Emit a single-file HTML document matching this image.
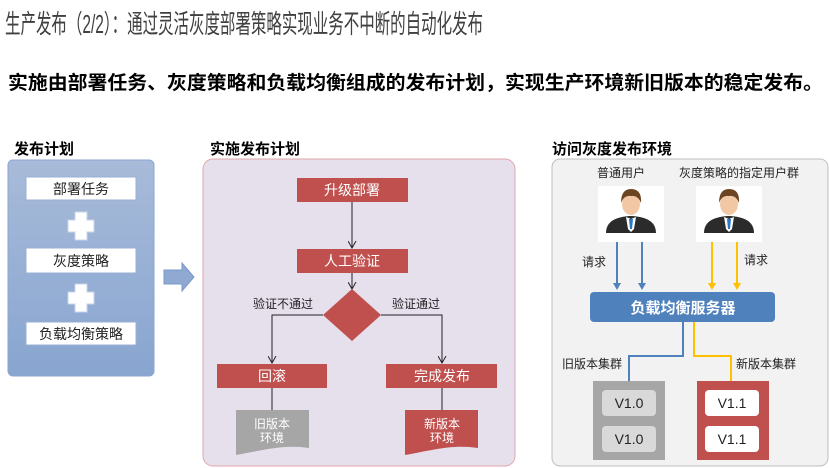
<!DOCTYPE html>
<html><head><meta charset="utf-8"><style>
html,body{margin:0;padding:0;background:#fff;}
svg{display:block;font-family:"Liberation Sans","Noto Sans CJK SC",sans-serif;}
</style></head><body>
<svg width="829" height="468" viewBox="0 0 829 468" xmlns="http://www.w3.org/2000/svg">
<defs>
<linearGradient id="lg" x1="0" y1="0" x2="0" y2="1"><stop offset="0" stop-color="#a8bbd9"/><stop offset="1" stop-color="#88a5d0"/></linearGradient>
<marker id="ab" markerWidth="10" markerHeight="10" refX="4" refY="7" orient="0" markerUnits="userSpaceOnUse"><path d="M0,0 L4,7 L8,0" fill="none" stroke="#222" stroke-width="1"/></marker>
</defs>
<text x="5" y="33" font-size="26" fill="#404040" textLength="478" lengthAdjust="spacingAndGlyphs">生产发布（2/2）：通过灵活灰度部署策略实现业务不中断的自动化发布</text>
<text x="8" y="89" font-size="19" font-weight="bold" fill="#000" textLength="815" lengthAdjust="spacingAndGlyphs">实施由部署任务、灰度策略和负载均衡组成的发布计划，实现生产环境新旧版本的稳定发布。</text>

<!-- left -->
<text x="14" y="154" font-size="15" font-weight="bold" fill="#000">发布计划</text>
<rect x="8" y="160" width="146" height="216" rx="5" fill="url(#lg)" stroke="#8aa6d2"/>
<g font-size="14" fill="#222" text-anchor="middle">
<rect x="26" y="177" width="110" height="23" fill="#fff" stroke="#9ab0d6"/><text x="81" y="194">部署任务</text>
<rect x="26" y="248" width="110" height="25" fill="#fff" stroke="#9ab0d6"/><text x="81" y="266">灰度策略</text>
<rect x="26" y="322" width="110" height="23" fill="#fff" stroke="#9ab0d6"/><text x="81" y="339">负载均衡策略</text>
</g>
<path d="M75,212h12v8h7v12h-7v8h-12v-8h-7v-12h7z" fill="#fff" stroke="#c8d4ea"/>
<path d="M75,284h12v8h7v12h-7v8h-12v-8h-7v-12h7z" fill="#fff" stroke="#c8d4ea"/>
<path d="M164,270h18v-7l12,14l-12,14v-7h-18z" fill="#8fa9d3" stroke="#7a98c8"/>

<!-- middle -->
<text x="210" y="154" font-size="15" font-weight="bold" fill="#000">实施发布计划</text>
<rect x="203" y="159" width="312" height="307" rx="10" fill="#e6dfec" stroke="#e2a6ac"/>
<g stroke="#222" stroke-width="1" fill="none">
<line x1="352" y1="202" x2="352" y2="248" marker-end="url(#ab)"/>
<line x1="352" y1="273" x2="352" y2="289" marker-end="url(#ab)"/>
<polyline points="323,315 272,315 272,363" marker-end="url(#ab)"/>
<polyline points="381,315 442,315 442,363" marker-end="url(#ab)"/>
<line x1="272" y1="388" x2="272" y2="412"/>
<line x1="442" y1="388" x2="442" y2="412"/>
</g>
<g font-size="14" fill="#fff" text-anchor="middle">
<rect x="297" y="178" width="111" height="24" fill="#c0504d"/><text x="352" y="195">升级部署</text>
<rect x="297" y="249" width="111" height="24" fill="#c0504d"/><text x="352" y="266">人工验证</text>
<path d="M352,289 L381,315 L352,341 L323,315z" fill="#c0504d"/>
<rect x="217" y="364" width="110" height="24" fill="#c0504d"/><text x="272" y="381">回滚</text>
<rect x="386" y="364" width="111" height="24" fill="#c0504d"/><text x="442" y="381">完成发布</text>
<path d="M236,410h73v38c-25,-4 -45,2 -73,7z" fill="#a6a6a6"/>
<text x="272" y="428" font-size="12">旧版本</text><text x="272" y="442" font-size="12">环境</text>
<path d="M405,410h73v38c-25,-4 -45,2 -73,7z" fill="#c0504d"/>
<text x="442" y="428" font-size="12">新版本</text><text x="442" y="442" font-size="12">环境</text>
</g>
<text x="253" y="308" font-size="12" fill="#222">验证不通过</text>
<text x="392" y="308" font-size="12" fill="#222">验证通过</text>

<!-- right -->
<text x="552" y="154" font-size="15" font-weight="bold" fill="#000">访问灰度发布环境</text>
<rect x="552" y="159" width="276" height="307" rx="8" fill="#f2f2f2" stroke="#bfbfbf"/>
<text x="621" y="177" font-size="12" fill="#222" text-anchor="middle">普通用户</text>
<text x="739" y="177" font-size="12" fill="#222" text-anchor="middle">灰度策略的指定用户群</text>
<g>
<rect x="598" y="186" width="66" height="56" fill="#fff"/>
<rect x="696" y="186" width="66" height="56" fill="#fff"/>
<g id="u">
<path d="M606,233 q0,-16 25,-17 q25,1 25,17z" fill="#2b2b2b"/>
<path d="M626,217 l5,2 l5,-2 l-2,12 l-3,3 l-3,-3z" fill="#fff"/>
<path d="M629,219 h4 l-1,10 h-2z" fill="#2a78c4"/>
<ellipse cx="631" cy="204" rx="9" ry="11" fill="#f1c8a3"/>
<path d="M621,203 q0,-14 10,-14 q11,0 10,14 q-3,-8 -10,-7 q-7,-1 -10,7z" fill="#6b4422"/>
</g>
<use href="#u" x="98"/>
</g>
<g stroke-width="2" fill="none">
<g stroke="#4f81bd"><line x1="617" y1="242" x2="617" y2="284"/><line x1="642" y1="242" x2="642" y2="284"/><polyline points="683,322 683,356 629,356 629,385"/></g>
<g stroke="#ffc000"><line x1="712" y1="242" x2="712" y2="284"/><line x1="737" y1="242" x2="737" y2="284"/><polyline points="694,322 694,356 731,356 731,385"/></g>
</g>
<g fill="#4f81bd"><path d="M613,283h8l-4,7z"/><path d="M638,283h8l-4,7z"/><path d="M625,384h8l-4,7z"/></g>
<g fill="#ffc000"><path d="M708,283h8l-4,7z"/><path d="M733,283h8l-4,7z"/><path d="M727,384h8l-4,7z"/></g>
<text x="582" y="266" font-size="12" fill="#222">请求</text>
<text x="744" y="264" font-size="12" fill="#222">请求</text>
<rect x="590" y="292" width="185" height="30" rx="4" fill="#4f81bd"/>
<text x="683" y="313" font-size="15" font-weight="bold" fill="#fff" text-anchor="middle">负载均衡服务器</text>
<text x="562" y="368" font-size="12" fill="#222">旧版本集群</text>
<text x="736" y="368" font-size="12" fill="#222">新版本集群</text>
<rect x="593" y="381" width="72" height="79" fill="#a6a6a6"/>
<rect x="602" y="390" width="54" height="26" rx="4" fill="#d9d9d9"/>
<rect x="602" y="426" width="54" height="26" rx="4" fill="#d9d9d9"/>
<rect x="697" y="381" width="72" height="79" fill="#c0504d"/>
<rect x="705" y="390" width="54" height="26" rx="4" fill="#fff"/>
<rect x="705" y="426" width="54" height="26" rx="4" fill="#fff"/>
<g font-size="14" fill="#222" text-anchor="middle">
<text x="629" y="408">V1.0</text><text x="629" y="444">V1.0</text>
<text x="732" y="408">V1.1</text><text x="732" y="444">V1.1</text>
</g>
</svg>
</body></html>
